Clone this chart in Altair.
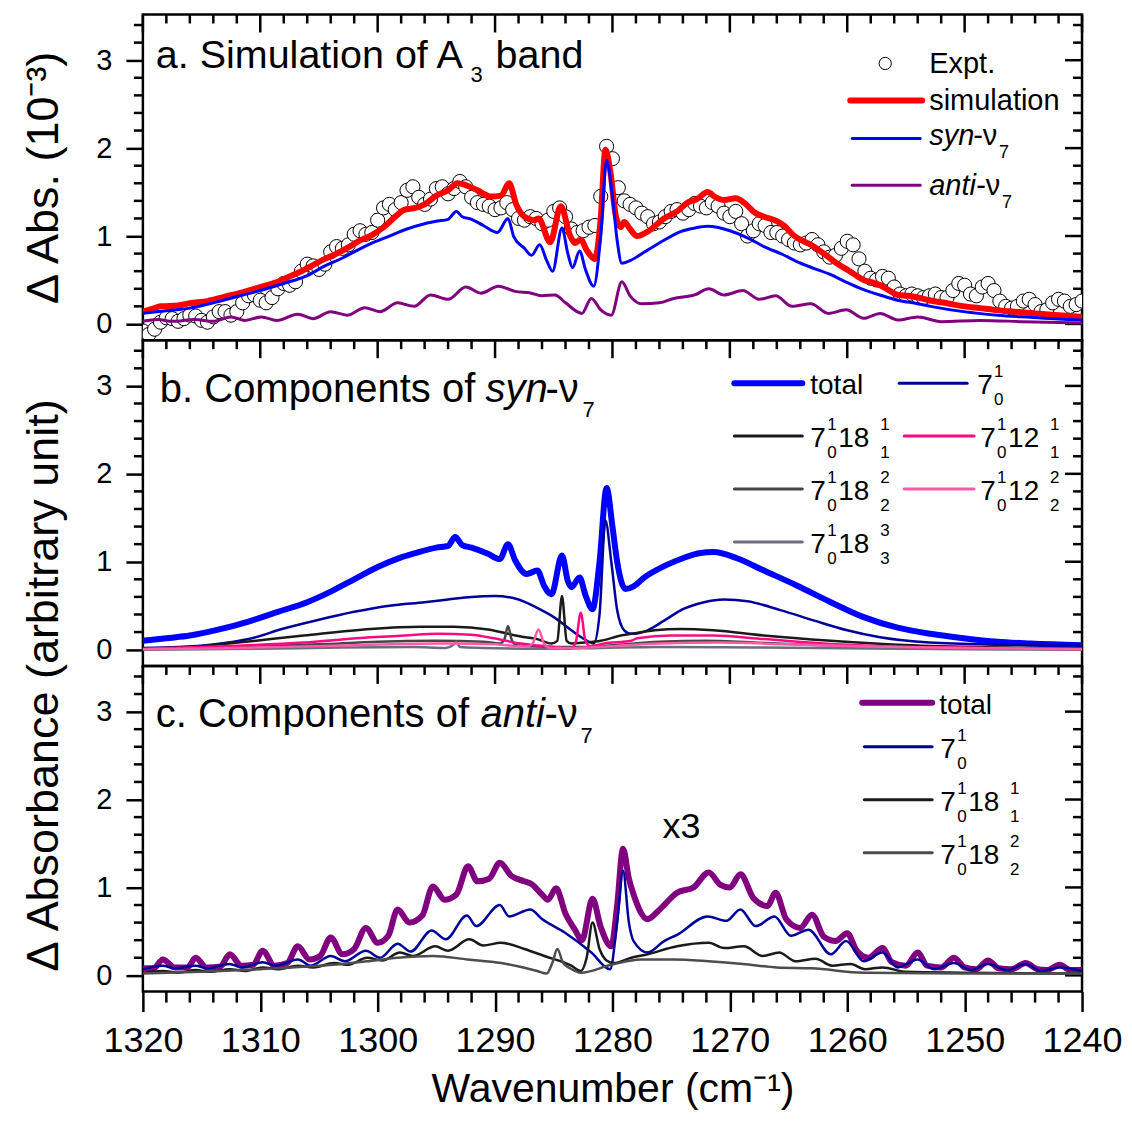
import altair as alt
import pandas as pd

FONT = "Liberation Sans"
PW, PH = 940, 326
X_DOMAIN = [1240, 1320]
Y_DOMAIN = [-0.185, 3.52]

X_MAJOR = [1320, 1310, 1300, 1290, 1280, 1270, 1260, 1250, 1240]
X_MINOR = [w for w in range(1318, 1240, -2) if w % 10 != 0]
Y_MAJOR = [0, 1, 2, 3]
Y_MINOR = [0.2, 0.4, 0.6, 0.8, 1.2, 1.4, 1.6, 1.8, 2.2, 2.4, 2.6, 2.8, 3.2, 3.4]

# ---------------- panel a ----------------
EXPT_VAL = [
    -0.08, -0.12, -0.06, 0.02, 0.07, 0.06, 0.03, 0.06, 0.10, 0.09,
    0.04, 0.02, 0.08, 0.14, 0.14, 0.10, 0.14, 0.24, 0.32, 0.33,
    0.27, 0.24, 0.30, 0.40, 0.46, 0.44, 0.48, 0.60, 0.68, 0.66,
    0.62, 0.68, 0.82, 0.88, 0.86, 0.90, 1.02, 1.06, 1.02, 1.04,
    1.18, 1.32, 1.36, 1.30, 1.38, 1.52, 1.56, 1.44, 1.36, 1.42,
    1.54, 1.56, 1.48, 1.54, 1.62, 1.56, 1.44, 1.38, 1.36, 1.34,
    1.30, 1.32, 1.38, 1.30, 1.20, 1.18, 1.22, 1.20, 1.14, 1.18,
    1.28, 1.32, 1.22, 1.08, 1.04, 1.06, 1.10, 1.12, 1.45, 2.02,
    1.88, 1.55, 1.40, 1.36, 1.32, 1.26, 1.22, 1.14, 1.16, 1.22,
    1.28, 1.30, 1.26, 1.30, 1.37, 1.34, 1.32, 1.38, 1.34, 1.26,
    1.22, 1.28, 1.14, 1.00, 1.06, 1.14, 1.12, 1.04, 1.04, 1.00,
    0.96, 0.92, 0.90, 0.92, 0.96, 0.90, 0.82, 0.76, 0.78, 0.86,
    0.94, 0.90, 0.74, 0.60, 0.52, 0.50, 0.54, 0.52, 0.42, 0.34,
    0.32, 0.34, 0.32, 0.30, 0.32, 0.34, 0.30, 0.30, 0.38, 0.46,
    0.44, 0.34, 0.32, 0.42, 0.46, 0.38, 0.26, 0.20, 0.18, 0.20,
    0.26, 0.28, 0.22, 0.14, 0.16, 0.24, 0.28, 0.26, 0.20, 0.22,
    0.26,
]
EXPT_WN = [1320.0 - 0.5 * i for i in range(len(EXPT_VAL))]

SIM_WN = [1320, 1319, 1318.5, 1317, 1316, 1314.5, 1313, 1311.5, 1310, 1308.5, 1307.5, 1306.5,
          1305.5, 1304.5, 1303.5, 1302.5, 1301.5, 1300.5, 1299.5, 1298.5, 1297.7, 1296.8, 1296,
          1295, 1294, 1293.2, 1292.5, 1291.5, 1290.4, 1289.5, 1288.8, 1288.2, 1287.5, 1286.7,
          1286.3, 1285.3, 1284.4, 1283.6, 1283.2, 1282.7, 1282.2, 1281.5, 1281.0, 1280.6, 1280.2,
          1279.7, 1279.3, 1279.0, 1278.5, 1277.9, 1277, 1275.6, 1274.5, 1273.6, 1272.8, 1271.9,
          1271.2, 1270.5, 1269.5, 1268.8, 1267.8, 1267.1, 1266, 1265.4, 1264.5, 1263.1, 1262,
          1260.9, 1259.8, 1258.6, 1257.8, 1257.2, 1256.4, 1255.7, 1254.8, 1254, 1253, 1251.5,
          1250, 1248.7, 1247.5, 1245.8, 1244, 1242, 1240]
SIM_VAL = [0.14, 0.18, 0.20, 0.21, 0.235, 0.26, 0.31, 0.36, 0.42, 0.48, 0.54, 0.60,
           0.67, 0.74, 0.80, 0.87, 0.95, 1.01, 1.10, 1.22, 1.30, 1.32, 1.36,
           1.46, 1.52, 1.60, 1.58, 1.52, 1.45, 1.46, 1.60, 1.36, 1.22, 1.18,
           1.20, 0.93, 1.34, 1.00, 0.92, 0.96, 0.84, 0.74, 1.20, 1.98, 1.75,
           1.22, 1.10, 1.16, 1.08, 1.00, 1.05, 1.20, 1.28, 1.38, 1.42, 1.50,
           1.44, 1.41, 1.43, 1.38, 1.26, 1.22, 1.17, 1.12, 1.00, 0.90, 0.80,
           0.69, 0.60, 0.50, 0.47, 0.44, 0.38, 0.33, 0.32, 0.30, 0.27, 0.235,
           0.20, 0.18, 0.16, 0.14, 0.12, 0.10, 0.08]

SYNA_WN = [1320, 1318, 1316, 1314, 1312, 1310, 1308, 1306, 1304.5, 1303, 1302, 1300.5, 1299,
           1297.5, 1296, 1294.9, 1294, 1293.3, 1292.8, 1292, 1291, 1289.8, 1288.9, 1288.4,
           1287.5, 1286.9, 1286.2, 1285.6, 1285.1, 1284.3, 1283.8, 1283.4, 1282.8, 1282.3,
           1281.6, 1281.0, 1280.5, 1280.0, 1279.6, 1279.2, 1278.5, 1277, 1275.5, 1274.2, 1273,
           1271.9, 1270, 1268.5, 1267.1, 1265.5, 1264.3, 1262.8, 1261.4, 1260, 1258.6, 1257,
           1255.7, 1254, 1252.9, 1250.1, 1247.2, 1244.4, 1242, 1240]
SYNA_VAL = [0.12, 0.15, 0.18, 0.24, 0.31, 0.38, 0.46, 0.55, 0.66, 0.75, 0.82, 0.92, 1.00,
            1.08, 1.14, 1.17, 1.19, 1.28, 1.22, 1.19, 1.12, 1.04, 1.20, 0.99,
            0.86, 0.78, 0.90, 0.72, 0.60, 1.09, 0.80, 0.64, 0.83, 0.62,
            0.43, 1.00, 1.86, 1.45, 0.95, 0.69, 0.72, 0.84, 0.96, 1.05, 1.09,
            1.11, 1.06, 0.98, 0.88, 0.79, 0.71, 0.63, 0.56, 0.47, 0.39, 0.32,
            0.27, 0.23, 0.20, 0.14, 0.10, 0.075, 0.055, 0.045]

ANTIA_WN = [1320, 1318.7, 1317.5, 1315.6, 1314, 1312.5, 1311.3, 1309.9, 1308.6, 1306.8, 1305.5,
            1304, 1302.6, 1301.1, 1299.8, 1298.3, 1296.9, 1295.5, 1294, 1292.5, 1291.2, 1289.7,
            1288.3, 1286.9, 1286, 1284.9, 1284, 1282.6, 1281.8, 1281, 1280.1, 1279.2, 1278.5,
            1277.5, 1276, 1274.8, 1273, 1271.8, 1270.5, 1268.9, 1267.5, 1266.1, 1264.7, 1263.1,
            1261.6, 1260.1, 1258.6, 1257.2, 1255.7, 1254.0, 1252, 1248.7, 1245, 1240]
ANTIA_VAL = [0.03, 0.05, 0.03, 0.05, 0.03, 0.08, 0.04, 0.08, 0.04, 0.11, 0.06,
             0.14, 0.10, 0.185, 0.14, 0.24, 0.20, 0.33, 0.28, 0.42, 0.35, 0.43,
             0.37, 0.35, 0.32, 0.33, 0.24, 0.12, 0.29, 0.16, 0.10, 0.48, 0.32,
             0.23, 0.24, 0.29, 0.33, 0.40, 0.33, 0.38, 0.28, 0.32, 0.20, 0.23,
             0.12, 0.16, 0.065, 0.12, 0.045, 0.08, 0.026, 0.04, 0.026, 0.01]

# ---------------- panel b ----------------
TOTB_WN = [1320, 1318, 1316, 1313.5, 1311, 1308.5, 1306, 1304, 1302, 1300, 1298, 1296.5, 1295,
           1294, 1293.4, 1292.8, 1292, 1290.6, 1289.6, 1288.9, 1288.3, 1287.3, 1286.4, 1285.8,
           1285.2, 1284.3, 1283.8, 1283.5, 1282.8, 1282.3, 1281.7, 1281.1, 1280.5, 1280.0,
           1279.6, 1278.9, 1278.2, 1277.3, 1275.6, 1274, 1272.5, 1271.4, 1269.4, 1267.1, 1264.3,
           1261.4, 1258.6, 1255.7, 1252.9, 1250.1, 1247.2, 1244.4, 1240]
TOTB_VAL = [0.10, 0.13, 0.16, 0.23, 0.32, 0.43, 0.54, 0.66, 0.80, 0.94, 1.05, 1.11, 1.16,
            1.18, 1.28, 1.19, 1.16, 1.09, 1.03, 1.20, 1.02, 0.86, 0.90, 0.72,
            0.63, 1.07, 0.78, 0.71, 0.82, 0.62, 0.46, 1.00, 1.84, 1.40,
            1.00, 0.69, 0.72, 0.82, 0.95, 1.04, 1.10, 1.11, 1.04, 0.90, 0.73,
            0.54, 0.37, 0.25, 0.18, 0.13, 0.09, 0.07, 0.05]

N7B_WN = [1320, 1317, 1314, 1311, 1308, 1305, 1302, 1299, 1296, 1294, 1292, 1290, 1288, 1286.5,
          1285, 1283.5, 1282.4, 1281.6, 1281.1, 1280.6, 1280.1, 1279.6, 1279, 1278.4, 1277,
          1275.6, 1274, 1272.2, 1270.5, 1268.5, 1265.7, 1262.8, 1260, 1257.2, 1253, 1247, 1240]
N7B_VAL = [0.02, 0.03, 0.06, 0.12, 0.24, 0.34, 0.43, 0.50, 0.54, 0.57, 0.60, 0.61, 0.57, 0.48,
           0.37, 0.22, 0.12, 0.07, 0.40, 1.47, 1.00, 0.45, 0.22, 0.18, 0.22,
           0.33, 0.46, 0.54, 0.57, 0.55, 0.45, 0.33, 0.22, 0.14, 0.08, 0.055, 0.045]

B181_WN = [1320, 1315, 1311.9, 1306.3, 1300.6, 1296.3, 1293.5, 1290.6, 1287.8, 1286.4, 1285.2,
           1284.7, 1284.3, 1283.9, 1283.5, 1282.4, 1281, 1279.3, 1278.4, 1276.4, 1274.2, 1271.4,
           1267.1, 1261.4, 1255.7, 1248, 1240]
B181_VAL = [0.01, 0.04, 0.08, 0.16, 0.235, 0.26, 0.26, 0.23, 0.15, 0.12, 0.07,
            0.10, 0.61, 0.10, 0.07, 0.08, 0.10, 0.16, 0.18, 0.22, 0.235, 0.22,
            0.16, 0.10, 0.055, 0.026, 0.01]

B182_WN = [1320, 1312, 1305, 1300, 1295, 1291, 1289.6, 1289.2, 1288.9, 1288.6, 1288.2, 1285,
           1282, 1280, 1276, 1272, 1266, 1260, 1250, 1240]
B182_VAL = [0.005, 0.03, 0.06, 0.09, 0.10, 0.09, 0.07, 0.12, 0.27, 0.12, 0.05, 0.03,
            0.03, 0.05, 0.09, 0.10, 0.07, 0.04, 0.015, 0.005]

B183_WN = [1320, 1310, 1303, 1297, 1294.2, 1293.6, 1293.3, 1293.0, 1291, 1286, 1281, 1276,
           1268, 1258, 1250, 1240]
B183_VAL = [0.0, 0.01, 0.025, 0.03, 0.02, 0.05, 0.09, 0.03, 0.02, 0.01, 0.02, 0.03,
            0.025, 0.012, 0.005, 0.0]

B121_WN = [1320, 1313, 1306.3, 1300.6, 1297.7, 1294.9, 1292, 1290.6, 1287.8, 1285, 1283.5,
           1283.1, 1282.7, 1282.3, 1281.9, 1280.7, 1278.4, 1277.9, 1275, 1271.4, 1267.1, 1261.4,
           1252.9, 1240]
B121_VAL = [0.01, 0.04, 0.08, 0.14, 0.16, 0.18, 0.17, 0.14, 0.07, 0.03, 0.015,
            0.10, 0.42, 0.10, 0.04, 0.07, 0.10, 0.13, 0.16, 0.16, 0.12, 0.065,
            0.026, 0.01]

B122_WN = [1320, 1312, 1305, 1298, 1294, 1290, 1287.3, 1286.8, 1286.3, 1285.8, 1285.3, 1283,
           1280, 1276, 1271, 1265, 1258, 1250, 1240]
B122_VAL = [0.005, 0.02, 0.04, 0.065, 0.07, 0.06, 0.035, 0.07, 0.23, 0.06, 0.02, 0.02,
            0.04, 0.07, 0.08, 0.06, 0.035, 0.018, 0.005]

# ---------------- panel c ----------------
TOTC_WN = [1320, 1319.1, 1318.3, 1317.3, 1316.2, 1315.5, 1314.6, 1313.4, 1312.6, 1311.6, 1310.6,
           1309.8, 1308.8, 1307.7, 1306.8, 1305.8, 1304.9, 1304, 1303.0, 1302, 1301, 1300,
           1299.1, 1298.3, 1297.3, 1296.2, 1295.3, 1294.3, 1293.3, 1292.3, 1291.5, 1290.5,
           1289.6, 1288.6, 1287.5, 1286.9, 1286, 1285.5, 1284.8, 1284.0, 1283.2, 1282.6, 1281.7,
           1281.0, 1280.1, 1279.6, 1279.1, 1278.6, 1278.2, 1277, 1276.2, 1275.6, 1274.5, 1273.1,
           1271.8, 1270.8, 1270, 1269.1, 1268, 1266.8, 1266.1, 1265.2, 1264, 1263.0, 1262,
           1261, 1260.0, 1259.2, 1258.2, 1257.0, 1256.2, 1255, 1254.0, 1253.2, 1252, 1250.9,
           1250, 1249, 1248.0, 1247.1, 1246, 1244.8, 1243.8, 1243, 1241.9, 1241, 1240]
TOTC_VAL = [0.08, 0.08, 0.18, 0.09, 0.09, 0.20, 0.09, 0.10, 0.24, 0.11, 0.12,
            0.28, 0.11, 0.14, 0.33, 0.18, 0.22, 0.43, 0.24, 0.30, 0.54, 0.37,
            0.45, 0.75, 0.60, 0.68, 1.01, 0.86, 0.92, 1.24, 1.07, 1.10,
            1.28, 1.13, 1.07, 1.04, 0.92, 0.86, 0.99, 0.70, 0.52, 0.40, 0.87,
            0.55, 0.33, 0.80, 1.44, 1.10, 0.92, 0.64, 0.72, 0.80, 0.94, 1.00,
            1.17, 1.03, 1.00, 1.15, 0.88, 0.79, 0.94, 0.64, 0.54, 0.69, 0.44,
            0.39, 0.48, 0.28, 0.20, 0.31, 0.15, 0.11, 0.26, 0.11, 0.09, 0.20,
            0.09, 0.07, 0.17, 0.08, 0.07, 0.14, 0.07, 0.06, 0.12, 0.06, 0.06]

N7C_WN = [1320, 1318.3, 1317.3, 1315.5, 1314.5, 1312.6, 1311.6, 1309.8, 1308.7, 1306.8, 1305.7,
          1304, 1302.8, 1301, 1299.8, 1298.3, 1297.2, 1295.4, 1294.2, 1292.4, 1291.6, 1289.6,
          1288.8, 1287, 1286, 1284.1, 1281.8, 1280.2, 1279.6, 1279.1, 1278.6, 1278.2, 1277,
          1275.6, 1274.5, 1271.9, 1270.3, 1269.1, 1267.8, 1266.2, 1264.8, 1263.3, 1261.4,
          1260.1, 1258.6, 1257.0, 1255.7, 1254, 1252.6, 1250.9, 1249.5, 1248, 1246.4, 1244.8,
          1243.5, 1241.9, 1240]
N7C_VAL = [0.07, 0.11, 0.08, 0.11, 0.08, 0.13, 0.09, 0.15, 0.11, 0.18, 0.11,
           0.22, 0.16, 0.28, 0.20, 0.36, 0.27, 0.51, 0.41, 0.68, 0.56, 0.80,
           0.67, 0.75, 0.64, 0.49, 0.26, 0.07, 0.60, 1.19, 0.60, 0.39, 0.26,
           0.39, 0.46, 0.67, 0.62, 0.75, 0.56, 0.67, 0.45, 0.52, 0.24,
           0.39, 0.16, 0.26, 0.09, 0.18, 0.07, 0.14, 0.06, 0.13, 0.06, 0.13,
           0.05, 0.09, 0.05]

C181_WN = [1320, 1318.3, 1317, 1315.5, 1314.3, 1312.6, 1311.3, 1309.8, 1308.5, 1306.8, 1305.5,
           1303.7, 1302.5, 1300.9, 1299.6, 1298.1, 1297, 1295.1, 1294, 1292.2, 1291, 1289.5,
           1287.5, 1285.8, 1283.5, 1282.7, 1282.2, 1281.7, 1281.1, 1280.5, 1279.9, 1278.4, 1277,
           1274.5, 1271.8, 1270.5, 1268.8, 1267.2, 1265.8, 1264.4, 1262.7, 1261.3, 1259.7,
           1258.5, 1257, 1255, 1250, 1240]
C181_VAL = [0.03, 0.05, 0.03, 0.06, 0.04, 0.07, 0.05, 0.09, 0.07, 0.11, 0.09,
            0.14, 0.12, 0.20, 0.17, 0.26, 0.22, 0.33, 0.28, 0.41, 0.34, 0.37,
            0.30, 0.22, 0.11, 0.05, 0.20, 0.60, 0.30, 0.17, 0.14, 0.20, 0.24,
            0.33, 0.37, 0.31, 0.33, 0.22, 0.26, 0.16, 0.19, 0.11, 0.13,
            0.07, 0.09, 0.04, 0.03, 0.02]

C182_WN = [1320, 1315, 1310, 1306, 1303, 1300.9, 1298.3, 1295.3, 1292.3, 1289.5, 1286.4, 1285.6,
           1285.1, 1284.7, 1284.2, 1283.6, 1282.7, 1280.1, 1277.6, 1274.8, 1271.8, 1268.9, 1266,
           1263, 1258.6, 1250, 1240]
C182_VAL = [0.02, 0.04, 0.07, 0.10, 0.13, 0.16, 0.20, 0.22, 0.18, 0.14, 0.05, 0.02,
            0.15, 0.30, 0.14, 0.08, 0.03, 0.12, 0.18, 0.18, 0.16, 0.13, 0.09,
            0.08, 0.03, 0.02, 0.02]

# ---------------- helpers ----------------
XS = alt.Scale(domain=X_DOMAIN, reverse=True, nice=False, zero=False)
YS = alt.Scale(domain=Y_DOMAIN, nice=False, zero=False)
ONE = pd.DataFrame({"k": [0]})


def line(wn, val, color, width, xax, yax):
    df = pd.DataFrame({"wn": wn, "v": val})
    return alt.Chart(df).mark_line(color=color, strokeWidth=width, clip=True,
                                   interpolate="monotone",
                                   strokeJoin="round", strokeCap="round").encode(
        x=alt.X("wn:Q", scale=XS, axis=xax),
        y=alt.Y("v:Q", scale=YS, axis=yax))


def seg(x1, x2, y, color, width):
    return alt.Chart(ONE).mark_rule(color=color, strokeWidth=width, strokeCap="round").encode(
        x=alt.value(x1), x2=alt.value(x2), y=alt.value(y))


def txt(x, y, s, size, style="normal", align="left"):
    return alt.Chart(ONE).mark_text(text=s, font=FONT, fontSize=size, fontStyle=style,
                                    align=align, baseline="alphabetic", color="black").encode(
        x=alt.value(x), y=alt.value(y))


def label7(x, yl, tail=None, s=None):
    out = [txt(x, yl + 11, "7", 28), txt(x + 17, yl - 6, "1", 17), txt(x + 17, yl + 22, "0", 17)]
    if tail:
        out += [txt(x + 28, yl + 11, tail, 28), txt(x + 70, yl - 6, s, 17),
                txt(x + 70, yl + 22, s, 17)]
    return out


def yaxis(title=None, title_y=None):
    kw = dict(values=Y_MAJOR, tickSize=17, tickWidth=2.5, tickColor="black", domain=False,
              grid=False, labelFontSize=29, labelFont=FONT, labelColor="black", labelPadding=14,
              format="d", titleFontSize=45, titleFont=FONT, titleFontWeight="normal",
              titleColor="black", titleX=-76)
    kw["title"] = title
    if title_y is not None:
        kw["titleY"] = title_y
    return alt.Axis(**kw)


XAXIS = alt.Axis(values=X_MAJOR, tickSize=20, tickWidth=2.5, tickColor="black",
                 domain=False, grid=False, labelFontSize=36, labelFont=FONT,
                 labelColor="black", labelPadding=12, labelFlush=False, format="d",
                 title="Wavenumber (cm⁻¹)", titleFontSize=41, titleFont=FONT,
                 titleFontWeight="normal", titleColor="black", titlePadding=11)


def frame_ticks(xax, yax, bottom=False):
    ymin = pd.DataFrame({"t": Y_MINOR})
    ymaj = pd.DataFrame({"t": Y_MAJOR})
    xmin = pd.DataFrame({"t": X_MINOR})
    xmaj = pd.DataFrame({"t": X_MAJOR})
    L = [
        alt.Chart(ymin).mark_rule(color="black", strokeWidth=2.5).encode(
            y=alt.Y("t:Q", scale=YS, axis=yax), x=alt.value(-9), x2=alt.value(0)),
        alt.Chart(ymin).mark_rule(color="black", strokeWidth=2.5).encode(
            y=alt.Y("t:Q", scale=YS, axis=yax), x=alt.value(PW - 9), x2=alt.value(PW)),
        alt.Chart(ymaj).mark_rule(color="black", strokeWidth=2.5).encode(
            y=alt.Y("t:Q", scale=YS, axis=yax), x=alt.value(PW - 17), x2=alt.value(PW)),
        alt.Chart(xmin).mark_rule(color="black", strokeWidth=2.5).encode(
            x=alt.X("t:Q", scale=XS, axis=xax), y=alt.value(0), y2=alt.value(9)),
        alt.Chart(xmaj).mark_rule(color="black", strokeWidth=2.5).encode(
            x=alt.X("t:Q", scale=XS, axis=xax), y=alt.value(0), y2=alt.value(18)),
    ]
    if bottom:
        L.append(alt.Chart(xmin).mark_rule(color="black", strokeWidth=2.5).encode(
            x=alt.X("t:Q", scale=XS, axis=xax), y=alt.value(PH), y2=alt.value(PH + 11)))
    return L


# ---------------- panel a ----------------
YA = yaxis("Δ Abs. (10⁻³)")
expt_df = pd.DataFrame({"wn": EXPT_WN, "v": EXPT_VAL})
expt = alt.Chart(expt_df).mark_point(shape="circle", size=200, filled=True, fill="white",
                                     stroke="black", strokeWidth=1, opacity=1, clip=True).encode(
    x=alt.X("wn:Q", scale=XS, axis=None), y=alt.Y("v:Q", scale=YS, axis=YA))

pa_layers = frame_ticks(None, YA) + [
    expt,
    line(SIM_WN, SIM_VAL, "#ff0000", 6, None, YA),
    line(SYNA_WN, SYNA_VAL, "#0000ff", 3, None, YA),
    line(ANTIA_WN, ANTIA_VAL, "#800080", 3, None, YA),
    txt(13, 54, "a. Simulation of A", 39.5),
    txt(328, 68, "3", 22),
    txt(353, 54, "band", 39.5),
    alt.Chart(ONE).mark_point(shape="circle", size=150, filled=True, fill="white", stroke="black",
                              strokeWidth=1, opacity=1).encode(x=alt.value(743), y=alt.value(49)),
    txt(787, 59, "Expt.", 29),
    seg(708, 780, 86, "#ff0000", 6),
    txt(787, 96, "simulation", 29),
    seg(710, 778, 124, "#0000ff", 3),
    txt(787, 131, "syn", 29, "italic"),
    txt(831, 131, "-ν", 29),
    txt(857, 144, "7", 18),
    seg(710, 778, 171, "#800080", 3),
    txt(787, 181, "anti", 29, "italic"),
    txt(834, 181, "-ν", 29),
    txt(860, 194, "7", 18),
]
panel_a = alt.layer(*pa_layers).properties(width=PW, height=PH)

# ---------------- panel b ----------------
YB = yaxis(None)
pb_layers = frame_ticks(None, YB) + [
    line(TOTB_WN, TOTB_VAL, "#0000ff", 6, None, YB),
    line(N7B_WN, N7B_VAL, "#00009c", 2.5, None, YB),
    line(B181_WN, B181_VAL, "#1a1a1a", 2.5, None, YB),
    line(B182_WN, B182_VAL, "#454545", 2.5, None, YB),
    line(B183_WN, B183_VAL, "#6b6e80", 2.5, None, YB),
    line(B121_WN, B121_VAL, "#ff0a84", 2.5, None, YB),
    line(B122_WN, B122_VAL, "#ff5aa8", 2.5, None, YB),
    txt(17, 62, "b. Components of", 40),
    txt(343, 62, "syn", 40, "italic"),
    txt(403, 62, "-ν", 40),
    txt(440, 77, "7", 22),
    seg(592, 660, 43, "#0000ff", 6),
    txt(668, 54, "total", 28),
    seg(757, 825, 43, "#00009c", 3),
    seg(592, 660, 96, "#1a1a1a", 3),
    seg(762, 832, 96, "#ff0a84", 3),
    seg(592, 660, 149, "#454545", 3),
    seg(762, 832, 149, "#ff5aa8", 3),
    seg(592, 660, 202, "#6b6e80", 3),
] + label7(835, 43) + label7(668, 96, "18", "1") + label7(838, 96, "12", "1") \
  + label7(668, 149, "18", "2") + label7(838, 149, "12", "2") + label7(668, 202, "18", "3")
panel_b = alt.layer(*pb_layers).properties(width=PW, height=PH)

# ---------------- panel c ----------------
YC = yaxis("Δ Absorbance (arbitrary unit)", 19)
pc_layers = frame_ticks(XAXIS, YC, bottom=True) + [
    line(TOTC_WN, TOTC_VAL, "#800080", 6, XAXIS, YC),
    line(N7C_WN, N7C_VAL, "#00009c", 2.5, XAXIS, YC),
    line(C181_WN, C181_VAL, "#1a1a1a", 2.5, XAXIS, YC),
    line(C182_WN, C182_VAL, "#4d4d4d", 2.5, XAXIS, YC),
    txt(13, 61, "c. Components of", 40),
    txt(338, 61, "anti", 40, "italic"),
    txt(402, 61, "-ν", 40),
    txt(438, 77, "7", 22),
    txt(539, 172, "x3", 36, align="center"),
    seg(720, 790, 37, "#800080", 6),
    txt(797, 48, "total", 28),
    seg(722, 790, 81, "#00009c", 3),
    seg(722, 790, 134, "#1a1a1a", 3),
    seg(722, 790, 187, "#4d4d4d", 3),
] + label7(798, 81) + label7(798, 134, "18", "1") + label7(798, 187, "18", "2")
panel_c = alt.layer(*pc_layers).properties(width=PW, height=PH)

chart = alt.vconcat(panel_a, panel_b, panel_c, spacing=0).properties(
    bounds="flush", background="white",
    padding={"left": 12, "top": 3, "right": 0, "bottom": 0}
).configure_view(stroke="black", strokeWidth=2.5)

chart.save("out.html", embed_options={"renderer": "svg", "actions": False})
